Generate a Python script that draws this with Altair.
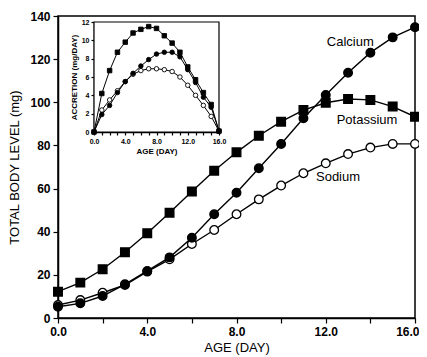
import altair as alt
import pandas as pd

# ---------------- data ----------------
days = list(range(17))
series_names = ["Sodium", "Calcium", "Potassium"]

potassium = [12.2, 16.4, 22.6, 30.5, 39.3, 48.8, 58.6, 68.3, 76.8, 84.5, 91.0,
             96.4, 99.8, 101.5, 101.1, 98.0, 93.3]
calcium = [5.2, 6.8, 10.2, 15.6, 21.8, 28.1, 37.2, 48.1, 58.1, 69.4, 80.7,
           92.6, 103.4, 113.7, 123.0, 130.1, 134.8]
sodium = [6.0, 8.3, 11.7, 15.3, 21.5, 27.2, 34.3, 40.8, 48.1, 55.0, 61.4,
          67.1, 71.7, 76.0, 79.0, 80.7, 80.7]

acc_potassium = [0.0, 4.2, 6.7, 8.7, 9.8, 10.8, 11.2, 11.5, 11.3, 10.5, 9.7,
                 8.7, 7.1, 5.7, 4.3, 3.0, 0.1]
acc_calcium = [0.0, 1.9, 2.9, 4.3, 5.5, 6.4, 7.2, 7.9, 8.5, 8.7, 8.7,
               8.2, 6.8, 5.4, 3.8, 2.7, 0.1]
acc_sodium = [0.0, 2.4, 3.5, 4.5, 5.5, 6.3, 6.7, 6.9, 6.9, 6.8, 6.6,
              6.0, 5.1, 4.0, 2.9, 1.7, 0.1]

label_names = ["Calcium", "Potassium", "Sodium"]
label_day = [13.1, 13.85, 12.55]
label_level = [128.0, 92.0, 65.4]

x_ticks = days
y_ticks = list(range(0, 141, 10))
inset_y_ticks = list(range(0, 13, 2))

# ---------------- tables ----------------
main_vals = {"Potassium": potassium, "Calcium": calcium, "Sodium": sodium}
acc_vals = {"Potassium": acc_potassium, "Calcium": acc_calcium, "Sodium": acc_sodium}

main_df = pd.DataFrame([
    {"day": d, "level": v, "series": s}
    for s in series_names for d, v in zip(days, main_vals[s])
])
inset_df = pd.DataFrame([
    {"iday": d, "acc": v, "series": s}
    for s in series_names for d, v in zip(days, acc_vals[s])
])
label_df = pd.DataFrame({"day": label_day, "level": label_level, "name": label_names})
frame_df = pd.DataFrame({"iday": [0], "iday2": [16], "acc": [0], "acc2": [12]})

FONT = "Liberation Sans"

shape_scale = alt.Scale(domain=["Potassium", "Calcium", "Sodium"],
                        range=["square", "circle", "circle"])
fill_scale = alt.Scale(domain=["Potassium", "Calcium", "Sodium"],
                       range=["black", "black", "white"])

# ---------------- main chart ----------------
xs = alt.Scale(domain=[0, 16], nice=False)
ys = alt.Scale(domain=[0, 140], nice=False)

x_main = alt.X("day:Q", scale=xs, axis=alt.Axis(
    values=x_ticks, title="AGE (DAY)",
    labelExpr="datum.value % 4 == 0 ? format(datum.value, '.1f') : ''",
    labelAlign={"condition": {"test": "datum.value == 16", "value": "right"}, "value": "center"},
    labelOffset={"condition": {"test": "datum.value == 16", "value": 4}, "value": 0},
    tickSize=5, labelPadding=3, labelFontSize=12, labelFontWeight="bold",
    titleFontSize=13, titleFontWeight="normal", titlePadding=4,
    labelFlush=False, labelOverlap=False))
y_main = alt.Y("level:Q", scale=ys, axis=alt.Axis(
    values=y_ticks, title="TOTAL BODY LEVEL (mg)",
    labelExpr="datum.value % 20 == 0 ? datum.value : ''",
    tickSize=5, labelPadding=3, labelFontSize=12, labelFontWeight="bold",
    titleFontSize=13, titleFontWeight="normal", titlePadding=8,
    labelOverlap=False))

main_base = alt.Chart(main_df).encode(x=x_main, y=y_main)
main_lines = main_base.mark_line(color="black", strokeWidth=1.4).encode(detail="series:N")
main_pts = main_base.mark_point(filled=True, stroke="black", strokeWidth=1.3,
                                opacity=1, size=75).encode(
    shape=alt.Shape("series:N", scale=shape_scale, legend=None),
    fill=alt.Fill("series:N", scale=fill_scale, legend=None),
)
labels = alt.Chart(label_df).mark_text(font=FONT, fontSize=13, color="black").encode(
    x=alt.X("day:Q", scale=xs), y=alt.Y("level:Q", scale=ys), text="name:N")

main = alt.layer(main_lines, main_pts, labels)

# ---------------- inset ----------------
ixs = alt.Scale(domain=[0, 16], nice=False, range=[36, 161])
iys = alt.Scale(domain=[0, 12], nice=False, range=[116, 6])

x_inset = alt.X("iday:Q", scale=ixs, axis=alt.Axis(
    orient="bottom", offset=-186, values=x_ticks, title="AGE (DAY)",
    labelExpr="datum.value % 4 == 0 ? format(datum.value, '.1f') : ''",
    tickSize=3, labelPadding=2, labelFontSize=7, labelFontWeight="bold",
    titleFontSize=8, titleFontWeight="bold", titlePadding=3,
    labelFlush=False, labelOverlap=False))
y_inset = alt.Y("acc:Q", scale=iys, axis=alt.Axis(
    orient="left", offset=-36, values=inset_y_ticks, title="ACCRETION (mg/DAY)",
    tickSize=3, labelPadding=2, labelFontSize=7, labelFontWeight="bold",
    titleFontSize=8, titleFontWeight="bold", titlePadding=3,
    labelOverlap=False))

frame = alt.Chart(frame_df).mark_rect(fill="white", stroke="black", strokeWidth=1.2).encode(
    x=x_inset, x2="iday2:Q", y=y_inset, y2="acc2:Q")
inset_base = alt.Chart(inset_df).encode(x=x_inset, y=y_inset)
inset_lines = inset_base.mark_line(color="black", strokeWidth=1).encode(detail="series:N")
inset_pts = inset_base.mark_point(filled=True, stroke="black", strokeWidth=0.9,
                                  opacity=1, size=20).encode(
    shape=alt.Shape("series:N", scale=shape_scale, legend=None),
    fill=alt.Fill("series:N", scale=fill_scale, legend=None),
)
inset = alt.layer(frame, inset_lines, inset_pts)

chart = alt.layer(main, inset).resolve_scale(
    x="independent", y="independent", shape="shared", fill="shared"
).properties(
    width=357, height=302,
    padding={"left": 50, "top": 8, "right": 4, "bottom": 39},
    autosize=alt.AutoSizeParams(type="none"),
).configure_view(
    stroke="black", strokeWidth=1.5
).configure_axis(
    domainColor="black", domainWidth=1.5, tickColor="black", tickWidth=1.2,
    labelColor="black", titleColor="black", grid=False,
    labelFont=FONT, titleFont=FONT,
)

chart.save("out.html", embed_options={"renderer": "svg", "actions": False})
